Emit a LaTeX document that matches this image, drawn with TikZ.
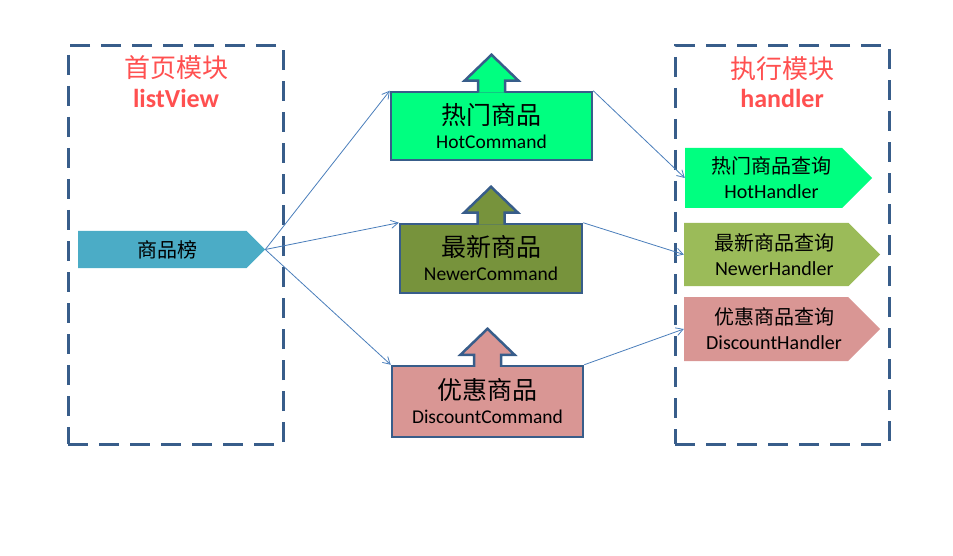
\documentclass[tikz,border=0pt]{standalone}
\usepackage{fontspec}
\setmainfont{Carlito}
\newfontfamily\cjk{Noto Sans CJK SC}
\usetikzlibrary{arrows.meta, shapes.symbols, calc}
\definecolor{modblue}{RGB}{56,93,138}
\definecolor{linkblue}{RGB}{74,126,187}
\definecolor{titlered}{RGB}{255,80,80}
\definecolor{hotgreen}{RGB}{0,255,128}
\definecolor{newolive}{RGB}{119,147,60}
\definecolor{newgreen}{RGB}{155,187,89}
\definecolor{discpink}{RGB}{217,150,148}
\definecolor{rankteal}{RGB}{75,172,198}

% arrow on top of a command box
\newcommand{\cmdhead}[2]{%
  \filldraw[cmd, fill=#2] ($(#1.north)+(-13.5,2)$) -- ++(0,-12) -- ++(-13.5,0)
    -- ($(#1.north)+(0,-36)$) -- ($(#1.north)+(27,-10)$) -- ++(-13.5,0)
    -- ($(#1.north)+(13.5,2)$);}
% two lines of a handler tag, pushed towards the tip
\newcommand{\hdltext}[2]{\hspace*{16pt}{\cjk #1}\\\hspace*{16pt}#2}

\begin{document}
\begin{tikzpicture}[
    x=1pt, y=-1pt,
    module/.style={draw=modblue, line width=3pt, dash pattern=on 20pt off 11pt},
    title/.style={text=titlered, font=\cjk\fontsize{26}{30}\selectfont},
    subtitle/.style={text=titlered, font=\bfseries\fontsize{26}{30}\selectfont, anchor=base},
    cmd/.style={draw=modblue, line width=2.5pt, line join=miter, align=center,
      font=\fontsize{19.5}{24}\selectfont, inner sep=0pt},
    tag/.style={signal, signal to=east, signal pointer angle=90, inner sep=0pt,
      align=center, font=\fontsize{20}{25}\selectfont},
    link/.style={draw=linkblue, line width=0.8pt, -{Straight Barb[length=7pt, width=8pt]}}
  ]
  \useasboundingbox (0,0) rectangle (953,556);

  % modules
  \node[module, minimum width=215pt, minimum height=398pt] (homebox) at (175.5,245) {};
  \node[module, minimum width=214pt, minimum height=398pt] (execbox) at (782,245) {};
  \node[title] (hometitle) at (176,67.5) {首页模块};
  \node[subtitle] (homesub) at (176,108) {listView};
  \node[title] (exectitle) at (782,68.5) {执行模块};
  \node[subtitle] (execsub) at (782,108) {handler};

  % entry
  \node[tag, fill=rankteal, minimum width=187pt, minimum height=37pt] (rank) at (162.25,249.5)
    {\hspace*{10pt}{\cjk 商品榜}};

  % commands
  \node[cmd, fill=hotgreen, minimum width=201pt, minimum height=68pt] (hotcmd) at (491.5,126)
    {{\cjk\fontsize{25}{24}\selectfont 热门商品}\\HotCommand};
  \cmdhead{hotcmd}{hotgreen}
  \node[cmd, fill=newolive, minimum width=182pt, minimum height=69pt] (newcmd) at (491,258.5)
    {{\cjk\fontsize{25}{24}\selectfont 最新商品}\\NewerCommand};
  \cmdhead{newcmd}{newolive}
  \node[cmd, fill=discpink, minimum width=191pt, minimum height=71pt] (disccmd) at (487.5,401.5)
    {{\cjk\fontsize{25}{24}\selectfont 优惠商品}\\DiscountCommand};
  \cmdhead{disccmd}{discpink}

  % handlers
  \node[tag, fill=hotgreen, minimum width=187pt, minimum height=60pt] (hothdl) at (763.5,178)
    {\hdltext{热门商品查询}{HotHandler}};
  \node[tag, fill=newgreen, minimum width=196pt, minimum height=63pt] (newhdl) at (766.25,254.5)
    {\hdltext{最新商品查询}{NewerHandler}};
  \node[tag, fill=discpink, minimum width=196pt, minimum height=64pt] (dischdl) at (766,329)
    {\hdltext{优惠商品查询}{DiscountHandler}};

  % links
  \draw[link] (rank.east) -- (hotcmd.north west);
  \draw[link] (rank.east) -- (newcmd.north west);
  \draw[link] (rank.east) -- (disccmd.north west);
  \draw[link] (hotcmd.north east) -- (hothdl.west);
  \draw[link] (newcmd.north east) -- (newhdl.west);
  \draw[link] (disccmd.north east) -- (dischdl.west);
\end{tikzpicture}
\end{document}
